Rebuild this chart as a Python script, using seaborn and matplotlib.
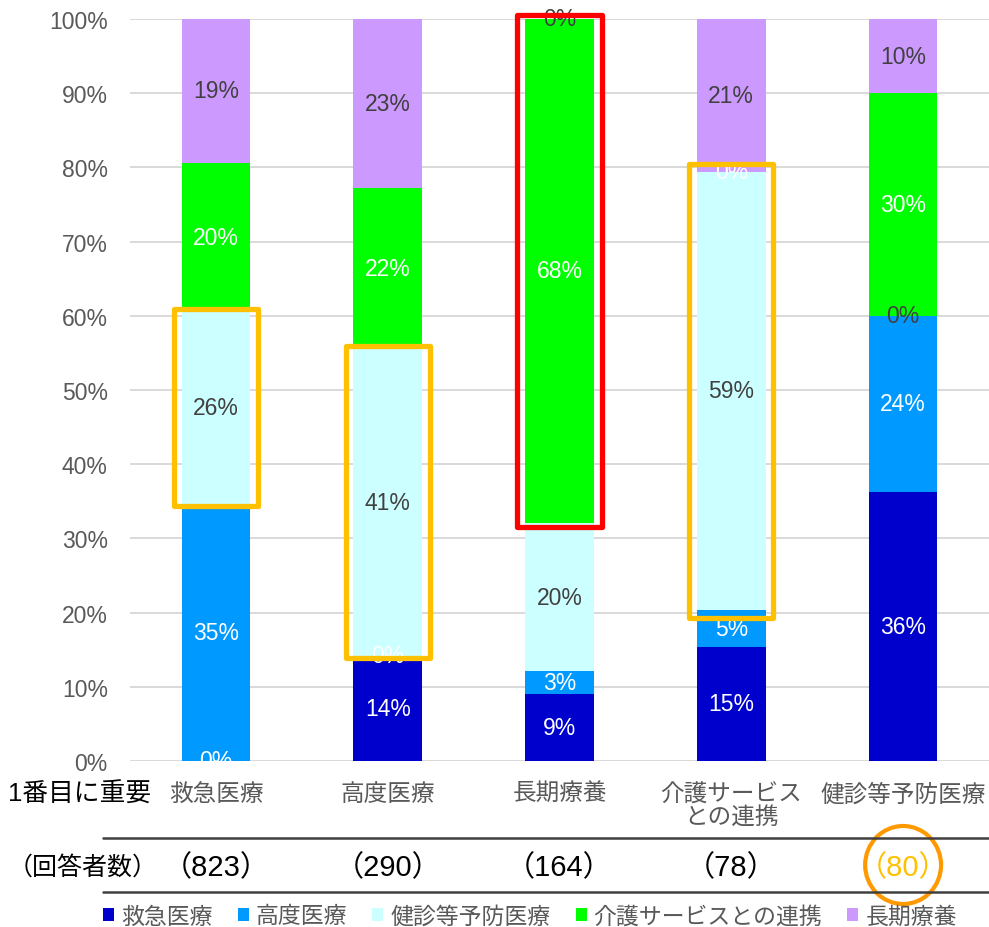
import matplotlib
matplotlib.use('Agg')
import matplotlib.pyplot as plt
import matplotlib.transforms as mtransforms
from matplotlib.patches import Rectangle, Ellipse, Patch
from matplotlib.lines import Line2D
import seaborn as sns
import pandas as pd
import numpy as np

# ---------------- data ----------------
categories = ['救急医療', '高度医療', '長期療養', '介護サービス\nとの連携', '健診等予防医療']
respondents = [823, 290, 164, 78, 80]
series_names = ['救急医療', '高度医療', '健診等予防医療', '介護サービスとの連携', '長期療養']
kyukyu = [0.0, 14.2, 9.0, 15.4, 36.3]
kodo = [34.6, 0.0, 3.1, 5.0, 23.7]
kenshin = [26.0, 41.4, 20.0, 59.0, 0.0]
kaigo = [20.0, 21.6, 67.9, 0.0, 30.0]
choki = [19.4, 22.8, 0.0, 20.6, 10.0]
y_ticks = [0, 10, 20, 30, 40, 50, 60, 70, 80, 90, 100]
row_title_1 = '1番目に重要'
row_title_2 = '（回答者数）'
# highlighted segments: (category index, series index, colour, vertical pad)
highlights = [(0, 2, '#FFC000', 0.3), (1, 2, '#FFC000', 0.3),
              (3, 2, '#FFC000', 1.1), (2, 3, '#FF0000', 0.5)]
circled_category = 4

series_values = [kyukyu, kodo, kenshin, kaigo, choki]
series_colors = ['#0000CC', '#0099FF', '#CCFFFF', '#00FF00', '#CC99FF']
label_colors = ['white', 'white', '#404040', 'white', '#404040']

# ---------------- style ----------------
sns.set_theme(style='white')
plt.rcParams['font.family'] = ['Liberation Sans', 'Noto Sans CJK JP', 'DejaVu Sans']

W, H = 989, 928
fig = plt.figure(figsize=(W / 100, H / 100), dpi=100)
ax = fig.add_axes([130 / W, 1 - 762 / H, 1 - 130 / W, (762 - 20) / H])

bar_width = 0.4
bottom = np.zeros(len(categories))
bottoms = []
for name, vals, color in zip(series_names, series_values, series_colors):
    df = pd.DataFrame({'cat': categories, 'val': vals})
    sns.barplot(data=df, x='cat', y='val', order=categories, color=color,
                saturation=1, width=bar_width, bottom=bottom.copy(),
                linewidth=0, errorbar=None, ax=ax, zorder=2)
    bottoms.append(bottom.copy())
    bottom = bottom + np.array(vals)

# data labels
for s, (vals, lc) in enumerate(zip(series_values, label_colors)):
    for i, v in enumerate(vals):
        y = bottoms[s][i] + v / 2
        ax.text(i, y, f'{int(np.floor(v + 0.5))}%', ha='center', va='center',
                color=lc, fontsize=16.5, zorder=4)

# highlight boxes
pad_x = 0.045
for ci, si, col, pad_y in highlights:
    y0 = bottoms[si][ci]
    h = series_values[si][ci]
    ax.add_patch(Rectangle((ci - bar_width / 2 - pad_x, y0 - pad_y),
                           bar_width + 2 * pad_x, h + 2 * pad_y,
                           fill=False, edgecolor=col, linewidth=3.8,
                           joinstyle='round', clip_on=False, zorder=5))

# axes styling
ax.set_ylim(0, 100)
ax.set_xlim(-0.5, len(categories) - 0.5)
ax.set_yticks(y_ticks)
ax.set_yticklabels([f'{t}%' for t in y_ticks])
ax.set_xlabel('')
ax.set_ylabel('')
for sp in ax.spines.values():
    sp.set_visible(False)
ax.grid(axis='y', color='#D9D9D9', linewidth=1.4, zorder=0)
ax.grid(axis='x', visible=False)
ax.set_axisbelow(True)
ax.tick_params(axis='y', length=0, pad=16, labelsize=16.5, labelcolor='#595959')
ax.tick_params(axis='x', length=0, pad=16, labelsize=17, labelcolor='#595959')
for lbl in ax.get_xticklabels():
    lbl.set_linespacing(1.1)

# table beneath
fig.text(8 / W, 1 - 795 / H, row_title_1, ha='left', va='center', fontsize=18.5, color='black')
fig.text(8 / W, 1 - 868 / H, row_title_2, ha='left', va='center', fontsize=18, color='black')
for yy in (839, 893):
    fig.add_artist(Line2D([103 / W, 1.0], [1 - yy / H, 1 - yy / H], color='#404040', linewidth=1.8))

blend = mtransforms.blended_transform_factory(ax.transData, fig.transFigure)
for i, n in enumerate(respondents):
    col = '#FFC000' if i == circled_category else 'black'
    ax.text(i, 1 - 868 / H, f'（{n}）', transform=blend, ha='center', va='center',
            fontsize=21, color=col, clip_on=False)
ax.add_patch(Ellipse((circled_category, 1 - 866 / H), 76 / 172, 78 / H, transform=blend,
                     fill=False, edgecolor='#FF9900', linewidth=3, clip_on=False))

# legend
handles = [Patch(facecolor=c, edgecolor='none', label=n) for n, c in zip(series_names, series_colors)]
fig.legend(handles=handles, loc='center', bbox_to_anchor=(530 / W, 1 - 917 / H), ncol=5,
           frameon=False, fontsize=16.5, handlelength=0.48, handleheight=0.48,
           handletextpad=0.3, columnspacing=1.1, borderpad=0, borderaxespad=0,
           labelcolor='#595959')

fig.savefig('out.png', dpi=100)
